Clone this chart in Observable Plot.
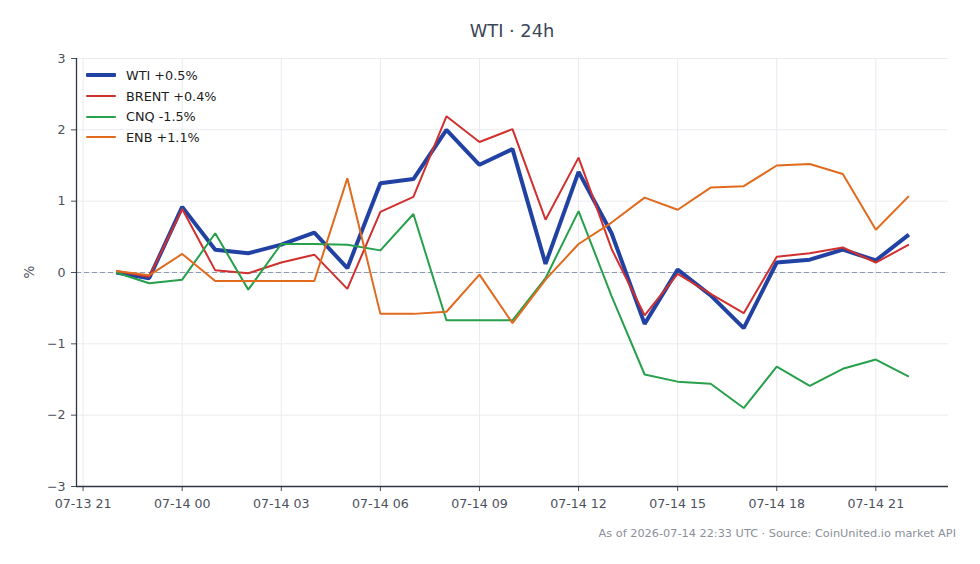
<!DOCTYPE html>
<html>
<head>
<meta charset="utf-8">
<script src="https://cdn.jsdelivr.net/npm/d3@7"></script>
<script src="https://cdn.jsdelivr.net/npm/@observablehq/plot@0.6"></script>
<style>
  html, body { margin: 0; padding: 0; background: #fff; }
  #wrap { position: relative; width: 980px; height: 564px; font-family: "DejaVu Sans", sans-serif; }
  #title { position: absolute; left: 76px; width: 872px; top: 20px; text-align: center; font-size: 17.8px; color: #3b4657; }
  #caption { position: absolute; right: 24px; top: 527px; font-size: 11.3px; color: #8a8f99; }
  #legend { position: absolute; left: 86px; top: 65px; font-size: 12.8px; color: #1c1c1c; }
  .row { display: flex; align-items: center; height: 20.7px; }
  .sw { width: 30px; margin-right: 10px; border-radius: 1px; }
  #chart { position: absolute; left: 0; top: 0; }
</style>
</head>
<body>
<div id="wrap">
  <div id="chart"></div>
  <div id="title">WTI · 24h</div>
  <div id="legend"></div>
  <div id="caption">As of 2026-07-14 22:33 UTC · Source: CoinUnited.io market API</div>
</div>
<script>
// Hourly timestamps (UTC)
const times = [
  "2026-07-13T22:00Z", "2026-07-13T23:00Z", "2026-07-14T00:00Z", "2026-07-14T01:00Z",
  "2026-07-14T02:00Z", "2026-07-14T03:00Z", "2026-07-14T04:00Z", "2026-07-14T05:00Z",
  "2026-07-14T06:00Z", "2026-07-14T07:00Z", "2026-07-14T08:00Z", "2026-07-14T09:00Z",
  "2026-07-14T10:00Z", "2026-07-14T11:00Z", "2026-07-14T12:00Z", "2026-07-14T13:00Z",
  "2026-07-14T14:00Z", "2026-07-14T15:00Z", "2026-07-14T16:00Z", "2026-07-14T17:00Z",
  "2026-07-14T18:00Z", "2026-07-14T19:00Z", "2026-07-14T20:00Z", "2026-07-14T21:00Z",
  "2026-07-14T22:00Z"
];

// Percent change from the first hour
const wti   = [0.00, -0.08, 0.92, 0.32, 0.27, 0.39, 0.56, 0.06, 1.25, 1.31, 2.00, 1.51, 1.73, 0.12, 1.41, 0.55, -0.72, 0.04, -0.32, -0.78, 0.14, 0.18, 0.32, 0.17, 0.53];
const brent = [0.02, -0.06, 0.89, 0.03, -0.01, 0.14, 0.25, -0.23, 0.85, 1.06, 2.19, 1.83, 2.01, 0.74, 1.61, 0.33, -0.60, -0.02, -0.30, -0.57, 0.22, 0.27, 0.35, 0.14, 0.39];
const cnq   = [0.00, -0.15, -0.10, 0.55, -0.24, 0.40, 0.40, 0.39, 0.31, 0.82, -0.67, -0.67, -0.67, -0.08, 0.86, -0.33, -1.43, -1.53, -1.56, -1.90, -1.32, -1.59, -1.35, -1.22, -1.46];
const enb   = [0.02, -0.04, 0.26, -0.12, -0.12, -0.12, -0.12, 1.32, -0.58, -0.58, -0.55, -0.03, -0.71, -0.10, 0.40, 0.70, 1.05, 0.88, 1.19, 1.21, 1.50, 1.52, 1.38, 0.60, 1.07];

const seriesNames  = ["WTI", "BRENT", "CNQ", "ENB"];
const seriesValues = [wti, brent, cnq, enb];
const seriesColors = ["#2142a3", "#d0302e", "#26a04a", "#e06a1e"];
const seriesWidths = [4, 2, 2, 2];

// Axis ticks
const xTickLabels = ["2026-07-13T21:00Z", "2026-07-14T00:00Z", "2026-07-14T03:00Z", "2026-07-14T06:00Z",
                     "2026-07-14T09:00Z", "2026-07-14T12:00Z", "2026-07-14T15:00Z", "2026-07-14T18:00Z",
                     "2026-07-14T21:00Z"];
const yTicks = [-3, -2, -1, 0, 1, 2, 3];
const xDomain = ["2026-07-13T20:48Z", "2026-07-14T23:12Z"].map(d => new Date(d));

const xTicks = xTickLabels.map(d => new Date(d));
const dates = times.map(d => new Date(d));

const rows = seriesNames.flatMap((name, i) =>
  seriesValues[i].map((v, j) => ({series: name, time: dates[j], value: v}))
);

const lineMarks = seriesNames.map((name, i) =>
  Plot.line(rows.filter(r => r.series === name), {
    x: "time", y: "value",
    stroke: seriesColors[i], strokeWidth: seriesWidths[i],
    strokeLinejoin: "miter", strokeLinecap: "butt"
  })
);

const chart = Plot.plot({
  width: 980,
  height: 564,
  marginLeft: 76,
  marginRight: 32,
  marginTop: 58,
  marginBottom: 78,
  style: {fontFamily: "DejaVu Sans, sans-serif", fontSize: "12.6px", color: "#4a505c", background: "#fff"},
  x: {
    type: "utc", domain: xDomain, ticks: xTicks,
    tickFormat: d3.utcFormat("%m-%d %H"), tickSize: 5, tickPadding: 8, label: null
  },
  y: {
    domain: [-3, 3], ticks: yTicks, tickSize: 5, tickPadding: 6,
    tickFormat: d3.format("d"), label: null
  },
  marks: [
    Plot.ruleY(yTicks, {stroke: "#e9ebef", strokeWidth: 1}),
    Plot.ruleX(xTicks, {stroke: "#e9ebef", strokeWidth: 1}),
    Plot.ruleY([0], {stroke: "#8d9ab0", strokeWidth: 1.2, strokeDasharray: "5,3"}),
    ...lineMarks,
    Plot.ruleX([xDomain[0]], {stroke: "#2f3642", strokeWidth: 1.3}),
    Plot.ruleY([-3], {stroke: "#2f3642", strokeWidth: 1.3})
  ]
});

// y axis unit label
const svg = d3.select(chart);
svg.append("text")
  .attr("transform", "translate(34,272) rotate(-90)")
  .attr("text-anchor", "middle")
  .attr("fill", "#4a505c")
  .style("font-size", "13.5px")
  .text("%");

document.getElementById("chart").appendChild(chart);

// Legend with last-hour change
const legend = document.getElementById("legend");
seriesNames.forEach((name, i) => {
  const last = seriesValues[i][seriesValues[i].length - 1];
  const label = `${name} ${last >= 0 ? "+" : "-"}${Math.abs(last).toFixed(1)}%`;
  const row = document.createElement("div");
  row.className = "row";
  const sw = document.createElement("div");
  sw.className = "sw";
  sw.style.height = seriesWidths[i] + "px";
  sw.style.background = seriesColors[i];
  const tx = document.createElement("span");
  tx.textContent = label;
  row.appendChild(sw);
  row.appendChild(tx);
  legend.appendChild(row);
});
</script>
</body>
</html>
